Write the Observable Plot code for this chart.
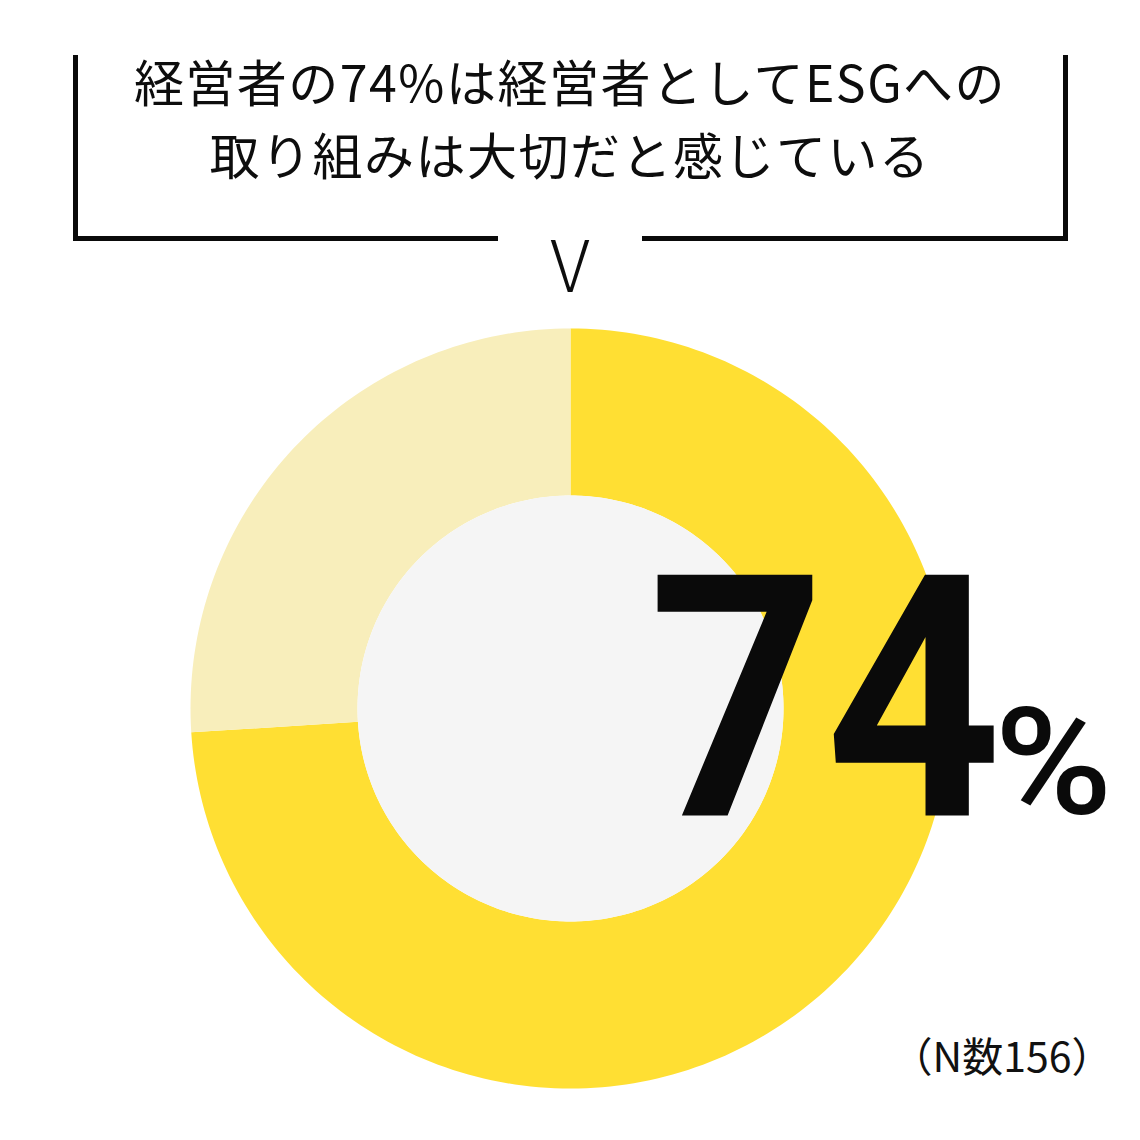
<!DOCTYPE html>
<html><head><meta charset="utf-8">
<script src="https://cdn.jsdelivr.net/npm/d3@7"></script>
<script src="https://cdn.jsdelivr.net/npm/@observablehq/plot@0.6"></script>
<style>
html,body{margin:0;padding:0;background:#fff;}
#wrap{position:relative;width:1140px;height:1140px;overflow:hidden;font-family:"Noto Sans CJK JP","Noto Sans",sans-serif;color:#0d0d0d;}
#head{position:relative;width:1140px;height:300px;}
.ln{position:absolute;background:#0a0a0a;}
.tt{position:absolute;left:0;width:1140px;text-align:center;font-size:50px;line-height:50px;letter-spacing:1.5px;white-space:nowrap;}
#v{position:absolute;left:0;width:1140px;text-align:center;font-size:71px;line-height:71px;top:226px;font-weight:300;}
#chart svg{display:block;}
</style></head>
<body>
<div id="wrap">
  <div id="head">
    <div class="ln" style="left:73px;top:55px;width:5px;height:186px;"></div>
    <div class="ln" style="left:1063px;top:55px;width:5px;height:186px;"></div>
    <div class="ln" style="left:73px;top:236px;width:425px;height:5px;"></div>
    <div class="ln" style="left:642px;top:236px;width:426px;height:5px;"></div>
    <div class="tt" id="t1" style="top:55px;"></div>
    <div class="tt" id="t2" style="top:128px;"></div>
    <div id="v">V</div>
  </div>
  <div id="chart"></div>
</div>
<script>
// ---- data ----
const titleLines = ["経営者の74%は経営者としてESGへの", "取り組みは大切だと感じている"];
const categories = ["大切だと感じている", "その他"];
const shares = [74, 26];
const sliceColors = ["#FFDF33", "#F8EEBB"];
const holeColor = "#F5F5F5";
const unitLabel = "%";
const sampleSize = 156;

document.getElementById("t1").textContent = titleLines[0];
document.getElementById("t2").textContent = titleLines[1];

// ---- geometry of donut slices (angles derived from shares) ----
const innerRatio = 213 / 380;
const total = d3.sum(shares);
const ring = [];
let acc = 0;
categories.forEach((c, i) => {
  const a0 = acc / total * 2 * Math.PI;
  const a1 = (acc + shares[i]) / total * 2 * Math.PI;
  acc += shares[i];
  const n = Math.max(4, Math.ceil(shares[i] * 3));
  for (let k = 0; k <= n; k++) { const a = a0 + (a1 - a0) * k / n; ring.push({cat: c, x: Math.sin(a), y: Math.cos(a)}); }
  for (let k = n; k >= 0; k--) { const a = a0 + (a1 - a0) * k / n; ring.push({cat: c, x: Math.sin(a) * innerRatio, y: Math.cos(a) * innerRatio}); }
});
const disc = d3.range(0, 361).map(k => ({x: Math.sin(k * Math.PI / 180) * innerRatio, y: Math.cos(k * Math.PI / 180) * innerRatio}));

const svg = Plot.plot({
  width: 1140, height: 840, margin: 0,
  x: {domain: [-1, 1], range: [190, 950], axis: null},
  y: {domain: [-1, 1], range: [788, 28], axis: null},
  style: {background: "transparent", overflow: "visible"},
  marks: [
    ...categories.map((c, i) => Plot.line(ring.filter(d => d.cat === c), {x: "x", y: "y", fill: sliceColors[i], stroke: "none"})),
    Plot.line(disc, {x: "x", y: "y", fill: holeColor, stroke: "none"}),
    Plot.text([shares[0]], {text: d => String(d), frameAnchor: "top-left", dx: 648, dy: 515, lineAnchor: "bottom", textAnchor: "start",
      fontSize: 308, fontWeight: 700, fontFamily: "Roboto", fill: "#0a0a0a"}),
    Plot.text([unitLabel], {text: d => d, frameAnchor: "top-left", dx: 994, dy: 512, lineAnchor: "bottom", textAnchor: "start",
      fontSize: 148, fontWeight: 500, fontFamily: "Roboto", fill: "#0a0a0a"}),
    Plot.text([sampleSize], {text: d => `（N数${d}）`, frameAnchor: "top-left", dx: 1112, dy: 771, lineAnchor: "bottom", textAnchor: "end",
      fontSize: 41, fontFamily: "Noto Sans CJK JP", fill: "#111"})
  ]
});
function scaleText(t, sx, sy) {
  let tr = t.getAttribute("transform") || "";
  const x = t.getAttribute("x"), y = t.getAttribute("y");
  if (x !== null || y !== null) {
    tr += ` translate(${x || 0},${y || 0})`;
    t.removeAttribute("x"); t.removeAttribute("y");
  }
  t.setAttribute("transform", `${tr} scale(${sx},${sy})`);
}
svg.querySelectorAll("text").forEach(t => {
  if (t.textContent === String(shares[0])) scaleText(t, 1, 1.1);
  if (t.textContent === unitLabel) scaleText(t, 1.08, 1);
});
document.getElementById("chart").appendChild(svg);
</script>
</body></html>
